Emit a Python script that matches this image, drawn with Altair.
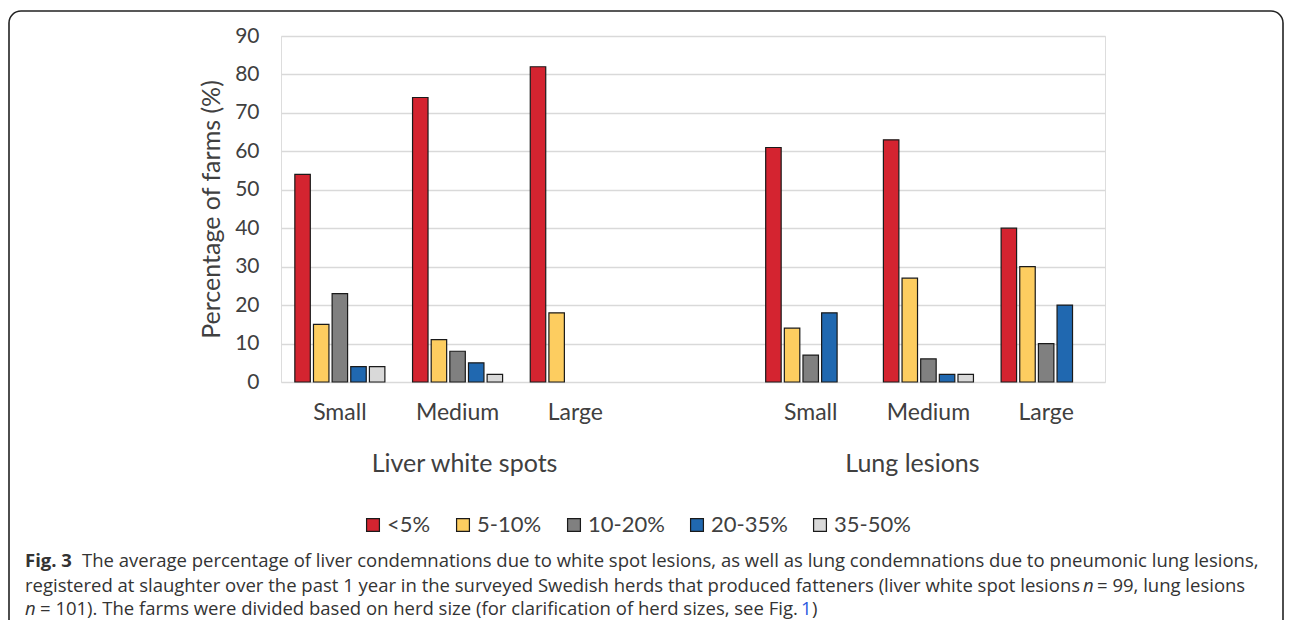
import json
import altair as alt
import pandas as pd

# ---------------- data ----------------
series = ["<5%", "5-10%", "10-20%", "20-35%", "35-50%"]
colors = ["#D42430", "#FDCD60", "#808080", "#2068B0", "#D9D9D9"]
sizes = ["Small", "Medium", "Large"]
groups = ["Liver white spots", "Lung lesions"]
slot_labels = ["Small", "Medium", "Large", "", "Small", "Medium", "Large"]

liver_small = [54, 15, 23, 4, 4]
liver_medium = [74, 11, 8, 5, 2]
liver_large = [82, 18, 0, 0, 0]
lung_small = [61, 14, 7, 18, 0]
lung_medium = [63, 27, 6, 2, 2]
lung_large = [40, 30, 10, 20, 0]

liver_slots = [0, 1, 2]
lung_slots = [4, 5, 6]
group_label_slots = [1, 5]

rows = []
for slot, vals in zip(liver_slots, [liver_small, liver_medium, liver_large]):
    for s, v in zip(series, vals):
        rows.append({"slot": slot, "series": s, "value": v})
for slot, vals in zip(lung_slots, [lung_small, lung_medium, lung_large]):
    for s, v in zip(series, vals):
        rows.append({"slot": slot, "series": s, "value": v})
df = pd.DataFrame(rows)

W, H = 824, 346
FONT = "Lato"
CAP_FONT = "Open Sans"
TXT = "#404040"
CAP = "#333333"

label_expr = json.dumps(slot_labels) + "[datum.value]"

def x_enc():
    return alt.X(
        "slot:O",
        scale=alt.Scale(domain=list(range(7)), paddingInner=0.235, paddingOuter=0.1175),
        axis=alt.Axis(
            title=None, labelExpr=label_expr, labelAngle=0, ticks=False, domain=False,
            labelFontSize=23, labelFont=FONT, labelColor=TXT, labelPadding=19,
        ),
    )

bars = (
    alt.Chart(df)
    .transform_filter("datum.value > 0")
    .mark_bar(stroke="#1a1a1a", strokeWidth=1.2)
    .encode(
        x=x_enc(),
        xOffset=alt.XOffset("series:N", scale=alt.Scale(domain=series, paddingInner=0.17)),
        y=alt.Y(
            "value:Q",
            scale=alt.Scale(domain=[0, 90]),
            axis=alt.Axis(
                values=list(range(0, 100, 10)), grid=True, gridColor="#D9D9D9", gridWidth=1.5,
                domain=False, ticks=False, labelFontSize=21, labelFont=FONT, labelColor=TXT,
                labelPadding=22, title="Percentage of farms (%)", titleFontSize=25,
                titleFont=FONT, titleColor=TXT, titleFontWeight="normal", titlePadding=10,
            ),
        ),
        color=alt.Color(
            "series:N",
            scale=alt.Scale(domain=series, range=colors),
            title=None,
            legend=alt.Legend(
                orient="none", legendX=81, legendY=478, direction="horizontal",
                labelFontSize=22, labelFont=FONT, labelColor=TXT, symbolType="square",
                symbolSize=165, symbolStrokeColor="#1a1a1a", symbolStrokeWidth=1.2,
                columnPadding=21, labelOffset=3, symbolOpacity=1,
            ),
        ),
    )
)

def group_label(i, dx):
    gdf = pd.DataFrame({"slot": [group_label_slots[i]], "label": [groups[i]]})
    return (
        alt.Chart(gdf)
        .mark_text(fontSize=25, font=FONT, color=TXT, baseline="middle", align="center", dx=dx)
        .encode(x=x_enc(), text="label:N", y=alt.value(H + 82))
    )

frame = (
    alt.Chart(pd.DataFrame({"a": [0]}))
    .mark_rect(fill="transparent", stroke="#222222", strokeWidth=1.6, cornerRadius=12)
    .encode(x=alt.value(-272), x2=alt.value(1002), y=alt.value(-25), y2=alt.value(700))
)

def seg(text, x, y, weight="normal", style="normal", color=CAP):
    return (
        alt.Chart(pd.DataFrame({"t": [text]}))
        .mark_text(font=CAP_FONT, fontSize=18.5, fontWeight=weight, fontStyle=style,
                   color=color, align="left", baseline="middle")
        .encode(text="t:N", x=alt.value(x), y=alt.value(y))
    )

y1, y2, y3 = 525, 550, 573
caption = [
    seg("Fig. 3", -256, y1, weight="bold"),
    seg("The average percentage of liver condemnations due to white spot lesions, as well as lung condemnations due to pneumonic lung lesions,", -199, y1),
    seg("registered at slaughter over the past 1 year in the surveyed Swedish herds that produced fatteners (liver white spot lesions", -256, y2),
    seg("n", 802, y2, style="italic"),
    seg("= 99, lung lesions", 816, y2),
    seg("n", -256, y3, style="italic"),
    seg("= 101). The farms were divided based on herd size (for clarification of herd sizes, see Fig.", -241, y3),
    seg("1", 520, y3, color="#2B5BE0"),
    seg(")", 531, y3),
]

chart = (
    alt.layer(frame, bars, group_label(0, 7), group_label(1, -16), *caption)
    .properties(
        width=W, height=H,
        autosize=alt.AutoSizeParams(type="none"),
        padding={"left": 273, "top": 28, "right": 179, "bottom": 238},
    )
    .configure_view(stroke=None)
    .configure(background="white")
)

chart.save("out.html", embed_options={"renderer": "svg", "actions": False})
